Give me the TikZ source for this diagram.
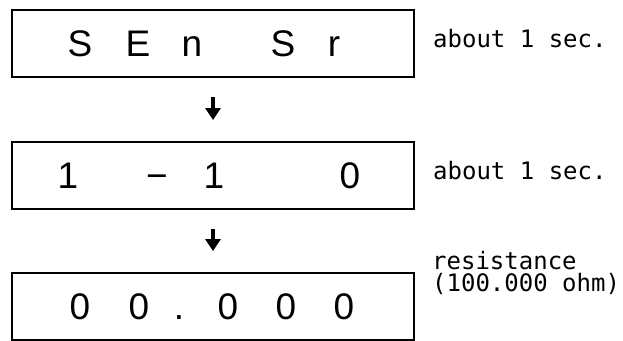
\documentclass[tikz,border=0pt]{standalone}
\usepackage{fontspec}
\newfontfamily\digitfont{Liberation Sans}
\newfontfamily\notefont{DejaVu Sans Mono}
\usetikzlibrary{arrows.meta}
\tikzset{
  % Box styles
  displaybox/.style={rectangle, draw=black, line width=2pt, minimum width=402pt, minimum height=67pt, inner sep=0pt},
  % Text styles
  glyph/.style={anchor=base, inner sep=0pt, font=\digitfont\fontsize{37}{37}\selectfont},
  note/.style={anchor=base west, inner sep=0pt, align=left, font=\notefont\fontsize{24}{22}\selectfont},
  % Arrow styles
  steparrow/.style={-{Triangle[width=15pt,length=12pt]}, line width=4.5pt, shorten <=19.5pt, shorten >=20.5pt}
}

\begin{document}
\begin{tikzpicture}[x=1pt, y=-1pt]
  \useasboundingbox (0,0) rectangle (623,340);

  % Displays
  \node[displaybox] (sens) at (213,43) {};
  \node[displaybox] (test) at (213,175) {};
  \node[displaybox] (ohms) at (213,306) {};

  % First display
  \node[glyph] (sens-s) at (80,56.5) {S};
  \node[glyph] (sens-e) at (138,56.5) {E};
  \node[glyph] (sens-n) at (192,56.5) {n};
  \node[glyph] (sens-S) at (283,56.5) {S};
  \node[glyph] (sens-r) at (334,56.5) {r};

  % Second display
  \node[glyph] (test-a) at (68,188.5) {1};
  \node[glyph] (test-b) at (157,188.5) {−};
  \node[glyph] (test-c) at (214,188.5) {1};
  \node[glyph] (test-d) at (350,188.5) {0};

  % Third display
  \node[glyph] (ohms-a) at (80,319.5) {0};
  \node[glyph] (ohms-b) at (139,319.5) {0};
  \node[glyph] (ohms-p) at (179,319.5) {.};
  \node[glyph] (ohms-c) at (228,319.5) {0};
  \node[glyph] (ohms-d) at (286,319.5) {0};
  \node[glyph] (ohms-e) at (344,319.5) {0};

  % Notes
  \node[note] (sens-note) at (433,47) {about 1 sec.};
  \node[note] (test-note) at (433,179) {about 1 sec.};
  \node[note] (ohms-note) at (432,291) {resistance\\(100.000 ohm)};

  % Arrows
  \draw[steparrow] (sens.south) -- (test.north);
  \draw[steparrow] (test.south) -- (ohms.north);
\end{tikzpicture}
\end{document}
